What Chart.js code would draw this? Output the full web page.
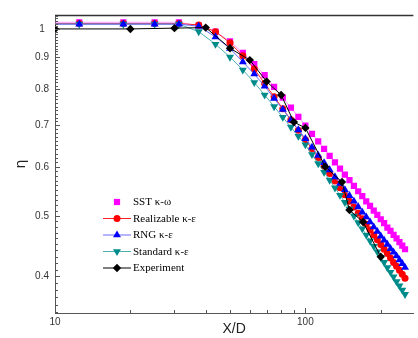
<!doctype html>
<html>
<head>
<meta charset="utf-8">
<title>Centerline eta vs X/D</title>
<script src="https://cdn.jsdelivr.net/npm/chart.js@4.4.1/dist/chart.umd.min.js"></script>
<style>
  html, body { margin: 0; padding: 0; background: #fff; }
  #holder { width: 418px; height: 338px; position: relative; }
</style>
</head>
<body>
<div id="holder"><canvas id="chart"></canvas></div>
<script>
// simulation stations (X/D)
var simX = [6.25, 12.5, 18.75, 25, 31.25, 37.5, 43.75, 50, 56.25, 62.5, 68.75, 75, 81.25, 87.5, 93.75,
  100, 106.25, 112.5, 118.75, 125, 131.25, 137.5, 143.75, 150, 156.25, 162.5, 168.75, 175, 181.25,
  187.5, 193.75, 200, 206.25, 212.5, 218.75, 225, 231.25, 237.5, 243.75, 250];

var sstEta = [1.025, 1.025, 1.025, 1.025, 1.025, 1.012, 0.99, 0.955, 0.915, 0.878, 0.843, 0.807, 0.775, 0.747, 0.722,
  0.699, 0.678, 0.659, 0.641, 0.625, 0.610, 0.596, 0.583, 0.571, 0.559, 0.548, 0.538, 0.528, 0.519,
  0.510, 0.502, 0.494, 0.487, 0.479, 0.473, 0.466, 0.460, 0.454, 0.448, 0.442];

var realizableEta = [1.02, 1.02, 1.02, 1.02, 1.02, 1.015, 0.99, 0.95, 0.905, 0.862, 0.817, 0.778, 0.744, 0.714, 0.687,
  0.663, 0.641, 0.621, 0.602, 0.585, 0.569, 0.555, 0.541, 0.528, 0.517, 0.505, 0.495, 0.485, 0.475,
  0.466, 0.458, 0.450, 0.442, 0.435, 0.428, 0.421, 0.415, 0.409, 0.403, 0.397];

var rngEta = [1.018, 1.018, 1.018, 1.018, 1.018, 1.01, 0.971, 0.93, 0.885, 0.846, 0.809, 0.773, 0.742, 0.714, 0.688,
  0.666, 0.645, 0.626, 0.609, 0.593, 0.578, 0.564, 0.551, 0.539, 0.528, 0.517, 0.507, 0.498, 0.489,
  0.480, 0.472, 0.464, 0.457, 0.450, 0.443, 0.437, 0.431, 0.425, 0.419, 0.413];

var standardEta = [1.018, 1.018, 1.018, 1.018, 1.018, 0.99, 0.945, 0.901, 0.859, 0.820, 0.783, 0.750, 0.721, 0.695, 0.672,
  0.651, 0.628, 0.607, 0.588, 0.571, 0.555, 0.540, 0.526, 0.513, 0.500, 0.488, 0.477, 0.466, 0.456,
  0.447, 0.438, 0.429, 0.421, 0.413, 0.406, 0.399, 0.392, 0.386, 0.380, 0.374];

// experiment
var expX = [10, 20, 30, 40, 50, 60, 70, 80, 90, 100, 120, 140, 150, 170, 200];
var expEta = [1.0, 1.0, 1.003, 1.005, 0.931, 0.891, 0.823, 0.783, 0.708, 0.693, 0.600, 0.567, 0.511, 0.489, 0.430];

// axis ticks
var xTickValues = [10, 100];
var xMinorTicks = [20, 30, 40, 50, 60, 70, 80, 90, 200];
var yTickValues = [0.4, 0.5, 0.6, 0.7, 0.8, 0.9, 1];

function pts(xs, ys) {
  return xs.map(function(v, i) { return { x: v, y: ys[i] }; });
}

var series = [
  { label: 'SST κ-ω', data: pts(simX, sstEta), fill: '#ff00ff', line: 'rgba(255,110,255,0.7)', style: 'rect', r: 4.4, rot: 0, order: 4 },
  { label: 'Realizable κ-ε', data: pts(simX, realizableEta), fill: '#ff0000', line: '#ff2020', style: 'circle', r: 3.5, rot: 0, order: 3 },
  { label: 'RNG κ-ε', data: pts(simX, rngEta), fill: '#0000ff', line: '#6a6aff', style: 'triangle', r: 4.6, rot: 0, order: 1 },
  { label: 'Standard κ-ε', data: pts(simX, standardEta), fill: '#008b8b', line: '#4fb0b0', style: 'triangle', r: 4.6, rot: 180, order: 2 },
  { label: 'Experiment', data: pts(expX, expEta), fill: '#000000', line: '#000000', style: 'rectRot', r: 4.2, rot: 0, order: 0 }
];

var datasets = series.map(function(s) {
  return {
    label: s.label, data: s.data, order: s.order,
    borderColor: s.line, borderWidth: 1, backgroundColor: s.fill,
    pointStyle: s.style, pointRadius: s.r, pointRotation: s.rot,
    pointBackgroundColor: s.fill, pointBorderColor: s.fill, pointBorderWidth: 0,
    tension: 0
  };
});

var axisColor = '#555';

var decor = {
  id: 'decor',
  afterDraw: function(chart) {
    var ctx = chart.ctx, a = chart.chartArea, xs = chart.scales.x, ys = chart.scales.y;
    ctx.save();
    // top frame line
    ctx.strokeStyle = '#333';
    ctx.lineWidth = 1.5;
    ctx.beginPath();
    ctx.moveTo(a.left, a.top + 0.5);
    ctx.lineTo(a.right, a.top + 0.5);
    ctx.stroke();

    // inward tick marks
    ctx.strokeStyle = axisColor;
    ctx.lineWidth = 1;
    ctx.beginPath();
    yTickValues.forEach(function(v) {
      var p = Math.round(ys.getPixelForValue(v)) + 0.5;
      ctx.moveTo(a.left, p); ctx.lineTo(a.left + 5, p);
    });
    for (var i = 35; i <= 105; i++) {
      var p = Math.round(ys.getPixelForValue(i / 100)) + 0.5;
      ctx.moveTo(a.left, p); ctx.lineTo(a.left + 3, p);
    }
    xTickValues.forEach(function(v) {
      var p = Math.round(xs.getPixelForValue(v)) + 0.5;
      ctx.moveTo(p, a.bottom); ctx.lineTo(p, a.bottom - 5);
    });
    xMinorTicks.forEach(function(v) {
      var p = Math.round(xs.getPixelForValue(v)) + 0.5;
      ctx.moveTo(p, a.bottom); ctx.lineTo(p, a.bottom - 3);
    });
    ctx.stroke();

    // legend
    var mx = a.left + 62, y0 = a.top + 187, step = 16.5;
    ctx.font = '11px "Liberation Serif"';
    ctx.textBaseline = 'middle';
    ctx.textAlign = 'left';
    series.forEach(function(s, k) {
      var ry = y0 + k * step;
      if (k > 0) {
        ctx.strokeStyle = s.line;
        ctx.lineWidth = 1;
        ctx.beginPath();
        ctx.moveTo(mx - 14, ry); ctx.lineTo(mx + 14, ry);
        ctx.stroke();
      }
      ctx.fillStyle = s.fill;
      Chart.helpers.drawPoint(ctx, { pointStyle: s.style, radius: s.r, rotation: s.rot, borderWidth: 0 }, mx, ry);
      ctx.fillStyle = '#000';
      ctx.fillText(s.label, mx + 16, ry + 0.5);
    });
    ctx.restore();
  }
};

new Chart(document.getElementById('chart').getContext('2d'), {
  type: 'line',
  data: { datasets: datasets },
  plugins: [decor],
  options: {
    responsive: true,
    maintainAspectRatio: false,
    animation: false,
    layout: { padding: { top: 15, right: 0, bottom: 0, left: 0 } },
    plugins: { legend: { display: false }, tooltip: { enabled: false } },
    scales: {
      x: {
        type: 'logarithmic', min: 10, max: 270,
        afterFit: function(s) { s.height = 25; },
        afterBuildTicks: function(s) { s.ticks = xTickValues.map(function(v) { return { value: v }; }); },
        grid: { display: false, drawTicks: false },
        border: { display: true, color: axisColor, width: 1 },
        ticks: {
          autoSkip: false, maxRotation: 0, padding: 3, color: '#333',
          font: { family: 'Liberation Sans', size: 10 },
          callback: function(v) { return String(v); }
        },
        title: { display: true, text: 'X/D', color: '#222', padding: { top: 0, bottom: 0 },
          font: { family: 'Liberation Sans', size: 14 } }
      },
      y: {
        type: 'logarithmic', min: 0.349, max: 1.053,
        afterFit: function(s) { s.width = 55; },
        afterBuildTicks: function(s) { s.ticks = yTickValues.map(function(v) { return { value: v }; }); },
        grid: { display: false, drawTicks: false },
        border: { display: true, color: axisColor, width: 1 },
        ticks: {
          autoSkip: false, padding: 6, crossAlign: 'center', color: '#333',
          font: { family: 'Liberation Sans', size: 10 },
          callback: function(v) { return String(v); }
        },
        title: { display: true, text: 'η', color: '#222', padding: { top: 13, bottom: 0 },
          font: { family: 'DejaVu Sans', size: 14 } }
      }
    }
  }
});
</script>
</body>
</html>
